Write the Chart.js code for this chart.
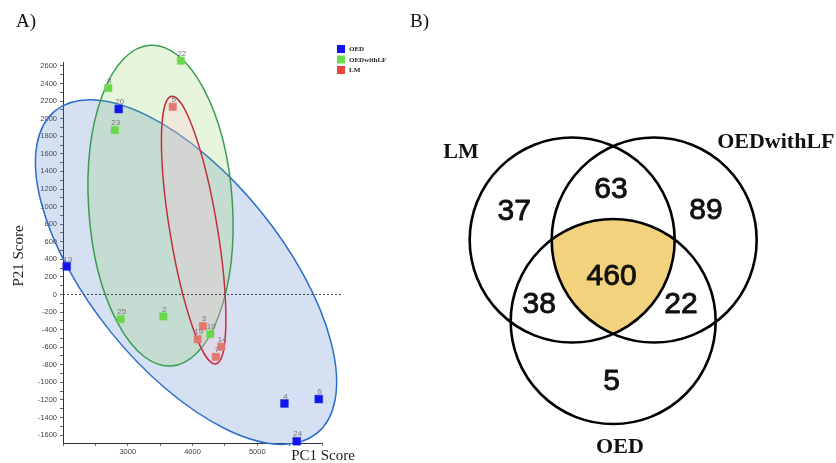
<!DOCTYPE html>
<html><head><meta charset="utf-8">
<script src="https://cdn.jsdelivr.net/npm/chart.js@4.4.1/dist/chart.umd.min.js"></script>
<style>
html,body{margin:0;padding:0;background:#fff;}
#wrap{position:relative;width:836px;height:463px;overflow:hidden;background:#fff;}
#pca{position:absolute;left:0;top:0;width:400px;height:463px;}
#venn{position:absolute;left:400px;top:0;width:436px;height:463px;}
</style></head><body>
<div id="wrap"><canvas id="pca" width="400" height="463"></canvas><canvas id="venn" width="436" height="463"></canvas></div>
<script>
// ---------- Panel A data (PCA scores) ----------
const groupNames = ['OED', 'OEDwithLF', 'LM'];
const oedPC1 = [2860, 2057, 5420, 5950, 5610];
const oedP21 = [2110, 320, -1240, -1190, -1670];
const oedIds = ['20', '13', '4', '6', '24'];
const lfPC1 = [3820, 2700, 2800, 2890, 3550, 4275];
const lfP21 = [2660, 2350, 1870, -280, -250, -450];
const lfIds = ['22', '8', '23', '25', '2', '10'];
const lmPC1 = [3695, 4160, 4080, 4445, 4360];
const lmP21 = [2135, -360, -510, -595, -710];
const lmIds = ['5', '3', '19', '14', '7'];
const xLabelTicks = [3000, 4000, 5000];
const yLabelStep = 200;
// group ellipses: centre and two conjugate semi-axes (score units)
const ellCentre = [[3900, 255], [3506, 1011], [4018, 733]];
const ellAxisU = [[2019, -1836], [165, -1825], [342, -1523]];
const ellAxisV = [[-1155, -689], [-1108, -54], [-362, -44]];

// ---------- Panel B data (Venn) ----------
const vennSets = ['LM', 'OEDwithLF', 'OED'];
const vennRegions = ['LM only', 'LM & OEDwithLF', 'OEDwithLF only', 'all three', 'LM & OED', 'OEDwithLF & OED', 'OED only'];
const vennCounts = [37, 63, 89, 460, 38, 22, 5];

// ---------- styles / layout ----------
const ptColors = ['#1414f0', '#6bd84c', '#e2776e'];
const legendColors = ['#1010ff', '#66e04c', '#e8443c'];
const ellFill = ['rgba(72,122,200,0.23)', 'rgba(130,205,80,0.2)', 'rgba(254,193,212,0.26)'];
const ellStroke = ['#2a6ecb', '#3b9d50', '#c2303e'];
const vennCentres = [[-0.4, 0.265], [0.4, 0.265], [0, -0.53]];
const vennRadius = 1;
const vennCountPos = [[-0.965, 0.541], [-0.021, 0.753], [0.905, 0.548], [-0.015, -0.093], [-0.721, -0.369], [0.661, -0.369], [-0.015, -1.117]];
const vennSetLabelPos = [[-1.485, 1.123], [1.587, 1.221], [0.066, -1.754]];

const zip = (xs, ys) => xs.map((x, i) => ({x: x, y: ys[i]}));

const ellipsePlugin = {
  id: 'ellipses',
  beforeDatasetsDraw(chart) {
    const {ctx, scales: {x, y}} = chart;
    ellCentre.forEach((c, i) => {
      const cx = x.getPixelForValue(c[0]), cy = y.getPixelForValue(c[1]);
      const u = ellAxisU[i], v = ellAxisV[i];
      const ux = x.getPixelForValue(c[0] + u[0]) - cx, uy = y.getPixelForValue(c[1] + u[1]) - cy;
      const vx = x.getPixelForValue(c[0] + v[0]) - cx, vy = y.getPixelForValue(c[1] + v[1]) - cy;
      ctx.save();
      ctx.save();
      ctx.transform(ux, uy, vx, vy, cx, cy);
      ctx.beginPath();
      ctx.arc(0, 0, 1, 0, Math.PI * 2);
      ctx.restore();
      ctx.fillStyle = ellFill[i];
      ctx.fill();
      ctx.lineWidth = 1.5;
      ctx.strokeStyle = ellStroke[i];
      ctx.stroke();
      ctx.restore();
    });
  }
};

const pcaText = {
  id: 'pcaText',
  afterDatasetsDraw(chart) {
    const ctx = chart.ctx;
    ctx.save();
    ctx.font = '8px "Liberation Sans", Arial, sans-serif';
    ctx.fillStyle = '#777';
    ctx.textAlign = 'center';
    ctx.textBaseline = 'middle';
    chart.data.datasets.forEach((ds, di) => {
      if (!ds.ids) return;
      const meta = chart.getDatasetMeta(di);
      meta.data.forEach((pt, i) => { ctx.fillText(ds.ids[i], pt.x + 1, pt.y - 7); });
    });
    ctx.restore();
  },
  afterDraw(chart) {
    const ctx = chart.ctx;
    ctx.save();
    ctx.fillStyle = '#111';
    ctx.font = '19px "Liberation Serif", "Times New Roman", serif';
    ctx.textBaseline = 'alphabetic';
    ctx.textAlign = 'left';
    ctx.fillText('A)', 16, 27);
    ctx.font = '15px "Liberation Serif", "Times New Roman", serif';
    ctx.fillStyle = '#222';
    ctx.textAlign = 'center';
    ctx.textBaseline = 'middle';
    ctx.fillText('PC1 Score', 323, 456);
    ctx.save();
    ctx.translate(19, 256);
    ctx.rotate(-Math.PI / 2);
    ctx.fillText('P21 Score', 0, 0);
    ctx.restore();
    ctx.font = 'bold 7px "Liberation Serif", "Times New Roman", serif';
    ctx.textAlign = 'left';
    groupNames.forEach((g, i) => {
      const cy = 49 + i * 10.5;
      ctx.fillStyle = legendColors[i];
      ctx.fillRect(337, cy - 4, 8, 8);
      ctx.fillStyle = '#222';
      ctx.fillText(g, 349, cy + 0.5);
    });
    ctx.restore();
  }
};

new Chart(document.getElementById('pca'), {
  type: 'scatter',
  data: {
    datasets: [
      {label: groupNames[0], ids: oedIds, data: zip(oedPC1, oedP21), backgroundColor: ptColors[0], borderColor: '#2a3ad0', borderWidth: 0.5, pointStyle: 'rect', pointRadius: 5.6, clip: false},
      {label: groupNames[1], ids: lfIds, data: zip(lfPC1, lfP21), backgroundColor: ptColors[1], borderColor: ptColors[1], borderWidth: 0.5, pointStyle: 'rect', pointRadius: 5.2, clip: false},
      {label: groupNames[2], ids: lmIds, data: zip(lmPC1, lmP21), backgroundColor: ptColors[2], borderColor: ptColors[2], borderWidth: 0.5, pointStyle: 'rect', pointRadius: 5.2, clip: false},
      {type: 'line', label: 'zero', data: [{x: 2000, y: 0}, {x: 6310, y: 0}], borderColor: '#444', borderWidth: 1, borderDash: [2, 2], pointRadius: 0, clip: false, fill: false}
    ]
  },
  options: {
    responsive: false,
    animation: false,
    layout: {padding: {left: 23, right: 78, top: 62, bottom: 0}},
    plugins: {legend: {display: false}, tooltip: {enabled: false}},
    scales: {
      x: {
        type: 'linear', min: 2000, max: 6000,
        afterFit: s => { s.height = 20; },
        grid: {drawOnChartArea: false, drawTicks: true, tickLength: 3, color: '#666'},
        border: {display: true, color: '#333', width: 1},
        ticks: {stepSize: 500, autoSkip: false, maxRotation: 0, padding: 1, color: '#444',
          font: {family: '"Liberation Sans", Arial, sans-serif', size: 7.5},
          callback: v => xLabelTicks.includes(v) ? String(v) : ''}
      },
      y: {
        type: 'linear', min: -1690, max: 2645,
        afterFit: s => { s.width = 40; },
        grid: {drawOnChartArea: false, drawTicks: true, tickLength: 3, color: '#666'},
        border: {display: true, color: '#333', width: 1},
        ticks: {stepSize: 100, includeBounds: false, autoSkip: false, padding: 3, color: '#444',
          font: {family: '"Liberation Sans", Arial, sans-serif', size: 7.5},
          callback: v => (v % yLabelStep === 0) ? String(v) : ''}
      }
    }
  },
  plugins: [ellipsePlugin, pcaText]
});

// ---------- Panel B ----------
const vennPlugin = {
  id: 'venn',
  afterDatasetsDraw(chart) {
    const {ctx, scales: {x, y}} = chart;
    const meta = chart.getDatasetMeta(0);
    const r = x.getPixelForValue(vennRadius) - x.getPixelForValue(0);
    ctx.save();
    ctx.save();
    meta.data.forEach(p => { ctx.beginPath(); ctx.arc(p.x, p.y, r, 0, Math.PI * 2); ctx.clip(); });
    ctx.fillStyle = '#f3d27e';
    ctx.fillRect(0, 0, chart.width, chart.height);
    ctx.restore();
    ctx.lineWidth = 2.6;
    ctx.strokeStyle = '#000';
    meta.data.forEach(p => { ctx.beginPath(); ctx.arc(p.x, p.y, r, 0, Math.PI * 2); ctx.stroke(); });
    ctx.fillStyle = '#111';
    ctx.strokeStyle = '#111';
    ctx.lineWidth = 0.9;
    ctx.lineJoin = 'round';
    ctx.font = '30px "Liberation Sans", Arial, sans-serif';
    ctx.textAlign = 'center';
    ctx.textBaseline = 'middle';
    vennCounts.forEach((n, i) => {
      const p = vennCountPos[i];
      const px = x.getPixelForValue(p[0]), py = y.getPixelForValue(p[1]);
      ctx.fillText(String(n), px, py);
      ctx.strokeText(String(n), px, py);
    });
    ctx.font = 'bold 22px "Liberation Serif", "Times New Roman", serif';
    vennSets.forEach((s, i) => {
      const p = vennSetLabelPos[i];
      ctx.fillText(s, x.getPixelForValue(p[0]), y.getPixelForValue(p[1]));
    });
    ctx.font = '19px "Liberation Serif", "Times New Roman", serif';
    ctx.textAlign = 'left';
    ctx.textBaseline = 'alphabetic';
    ctx.fillText('B)', 10, 27);
    ctx.restore();
  }
};

new Chart(document.getElementById('venn'), {
  type: 'scatter',
  data: {datasets: [{label: 'sets', data: vennCentres.map(c => ({x: c[0], y: c[1]})), pointRadius: 0}]},
  options: {
    responsive: false,
    animation: false,
    layout: {padding: 0},
    plugins: {legend: {display: false}, tooltip: {enabled: false}},
    scales: {
      x: {type: 'linear', display: false, min: -2.080, max: 2.174},
      y: {type: 'linear', display: false, min: -1.910, max: 2.607}
    }
  },
  plugins: [vennPlugin]
});
</script></body></html>
